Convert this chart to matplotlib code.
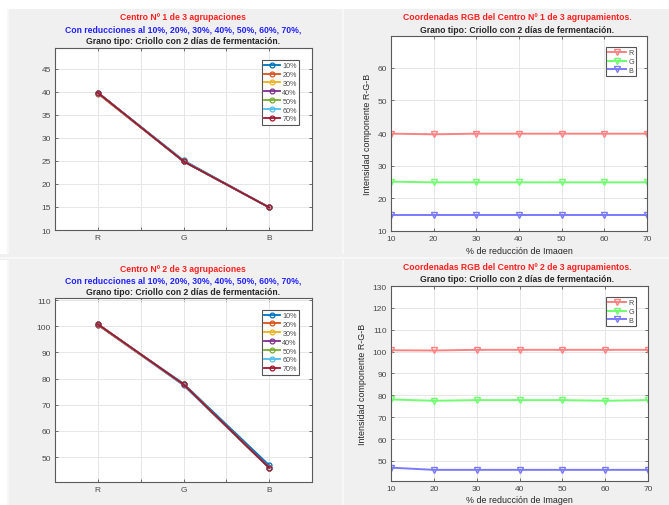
import matplotlib
matplotlib.use("Agg")
import matplotlib.pyplot as plt
from matplotlib.patches import Rectangle

W, H = 669, 506

# data
reduccion = [10, 20, 30, 40, 50, 60, 70]
canales = ['R', 'G', 'B']
etiquetas = ['10%', '20%', '30%', '40%', '50%', '60%', '70%']

c1_R = [39.8, 39.6, 39.8, 39.8, 39.8, 39.8, 39.8]
c1_G = [25.1, 24.9, 24.9, 24.9, 24.9, 24.9, 24.9]
c1_B = [14.9, 14.9, 14.9, 14.9, 14.9, 14.9, 14.9]

c2_R = [100.6, 100.5, 100.8, 100.8, 100.8, 100.8, 100.8]
c2_G = [78.1, 77.5, 77.8, 77.8, 77.8, 77.5, 77.8]
c2_B = [46.9, 45.9, 45.9, 45.9, 45.9, 45.9, 45.9]

matlab_colors = ['#0072BD', '#D95319', '#EDB120', '#7E2F8E',
                 '#77AC30', '#4DBEEE', '#A2142F']
rgb_colors = ['#ff8282', '#70ff70', '#7a7aff']

plt.rcParams['font.family'] = ['Liberation Sans', 'DejaVu Sans']
txt = '#262626'
tick_col = '#4a4a4a'

fig = plt.figure(figsize=(W / 100, H / 100), dpi=100, facecolor='#f0f0f0')

def px_axes(l, t, r, b):
    return fig.add_axes([l / W, 1 - b / H, (r - l) / W, (b - t) / H])

def ftext(x, y, s, color, size=6.2, weight='bold', **kw):
    fig.text(x / W, 1 - y / H, s, color=color, fontsize=size,
             fontweight=weight, ha='center', va='center', **kw)

def style(ax):
    ax.set_facecolor('white')
    for sp in ax.spines.values():
        sp.set_color('#5a5a5a')
        sp.set_linewidth(0.8)
    ax.tick_params(direction='in', length=2.5, width=0.6, colors='#5a5a5a',
                   labelcolor=tick_col, labelsize=6, top=True, right=True, pad=3)
    ax.grid(True, color='#e6e6e6', linewidth=0.7)
    ax.set_axisbelow(True)

def left_panel(ax, R, G, B, ylim, yticks, anchor):
    for i in range(len(etiquetas)):
        ax.plot([1, 2, 3], [R[i], G[i], B[i]], '-o', color=matlab_colors[i],
                linewidth=1.3, markersize=3.5, markerfacecolor='none',
                markeredgewidth=0.9, label=etiquetas[i])
    ax.set_xlim(0.5, 3.5)
    ax.set_ylim(*ylim)
    ax.set_xticks([0.5, 1, 1.5, 2, 2.5, 3, 3.5])
    ax.set_xticklabels(['', 'R', '', 'G', '', 'B', ''])
    ax.set_yticks(yticks)
    style(ax)
    leg = ax.legend(loc='upper right', bbox_to_anchor=anchor, fontsize=5.2,
                    handlelength=2.2, handletextpad=0.3, labelspacing=0.25,
                    borderpad=0.35, fancybox=False, framealpha=1,
                    edgecolor='#555555')
    leg.get_frame().set_linewidth(0.8)
    for t in leg.get_texts():
        t.set_color(tick_col)

def right_panel(ax, R, G, B, ylim, yticks, anchor):
    for vals, col, lab in zip([R, G, B], rgb_colors, canales):
        ax.plot(reduccion, vals, '-v', color=col, linewidth=1.4, markersize=4,
                markerfacecolor='none', markeredgewidth=1.0, label=lab)
    ax.set_xlim(10, 70)
    ax.set_ylim(*ylim)
    ax.set_xticks(reduccion)
    ax.set_yticks(yticks)
    style(ax)
    ax.set_ylabel('Intensidad componente R-G-B', fontsize=6.4, color=txt,
                  labelpad=4)
    leg = ax.legend(loc='upper right', bbox_to_anchor=anchor, fontsize=5.2,
                    handlelength=2.5, handletextpad=0.3, labelspacing=0.25,
                    borderpad=0.35, fancybox=False, framealpha=1,
                    edgecolor='#555555')
    leg.get_frame().set_linewidth(0.8)
    for t in leg.get_texts():
        t.set_color(tick_col)

# white margins and panel separators
fig.patches.append(Rectangle((0, 1 - 10 / H), 1, 10 / H, transform=fig.transFigure,
                             facecolor='white', edgecolor='none', zorder=-1))
fig.patches.append(Rectangle((0, 0), 7 / W, 1 - 10 / H, transform=fig.transFigure,
                             facecolor='white', edgecolor='none', zorder=-1))
fig.patches.append(Rectangle((7 / W, 0), 2 / W, 1 - 10 / H, transform=fig.transFigure,
                             facecolor='#f7f7f7', edgecolor='none', zorder=-1))
fig.patches.append(Rectangle((342 / W, 0), 2 / W, 1 - 10 / H, transform=fig.transFigure,
                             facecolor='#f8f8f8', edgecolor='none', zorder=-1))

# --- top left ---
ax1 = px_axes(55, 49, 312, 231)
left_panel(ax1, c1_R, c1_G, c1_B, (10, 49.5), range(10, 50, 5), (0.965, 0.956))
ftext(183, 17, 'Centro Nº 1 de 3 agrupaciones', '#ff2020')
ftext(183, 29.5, 'Con reducciones al 10%, 20%, 30%, 40%, 50%, 60%, 70%,', '#2020ff')
ftext(183, 41.5, 'Grano tipo: Criollo con 2 días de fermentación.', txt)

# --- top right ---
ax2 = px_axes(391, 37, 647, 232)
right_panel(ax2, c1_R, c1_G, c1_B, (10, 69.7), range(10, 70, 10), (0.973, 0.964))
ftext(517, 18, 'Coordenadas RGB del Centro Nº 1 de 3 agrupamientos.', '#ff2020')
ftext(517, 30.5, 'Grano tipo: Criollo con 2 días de fermentación.', txt)
ftext(519, 252, '% de reducción de Imagen', txt, size=6.4, weight='normal')

# --- bottom left ---
ax3 = px_axes(55, 299, 312, 483)
left_panel(ax3, c2_R, c2_G, c2_B, (40.5, 110.8), range(50, 111, 10), (0.965, 0.957))
ftext(183, 269, 'Centro Nº 2 de 3 agrupaciones', '#ff2020')
ftext(183, 281, 'Con reducciones al 10%, 20%, 30%, 40%, 50%, 60%, 70%,', '#2020ff')
ftext(183, 292.5, 'Grano tipo: Criollo con 2 días de fermentación.', txt)

# --- bottom right ---
ax4 = px_axes(391, 287, 648, 482)
right_panel(ax4, c2_R, c2_G, c2_B, (40.8, 130), range(50, 131, 10), (0.969, 0.964))
ftext(517, 268, 'Coordenadas RGB del Centro Nº 2 de 3 agrupamientos.', '#ff2020')
ftext(517, 279.5, 'Grano tipo: Criollo con 2 días de fermentación.', txt)
ftext(519, 501, '% de reducción de Imagen', txt, size=6.4, weight='normal')

# separator band between top and bottom rows (cuts the upper x label)
ov = fig.add_axes([0, 0, 1, 1], zorder=10)
ov.set_axis_off()
ov.set_xlim(0, W)
ov.set_ylim(H, 0)
ov.add_patch(Rectangle((0, 255), W, 6, facecolor='#f0f0f0', edgecolor='none'))
ov.add_patch(Rectangle((0, 258), W, 2, facecolor='#f8f8f8', edgecolor='none'))

fig.savefig('out.png', dpi=100, facecolor=fig.get_facecolor())
